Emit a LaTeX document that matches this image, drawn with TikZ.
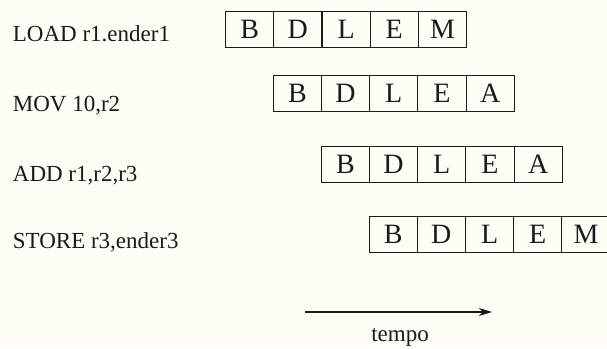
\documentclass[tikz,border=0pt]{standalone}
\usepackage{fontspec}
\setmainfont{Liberation Serif}
\usetikzlibrary{arrows.meta}
\definecolor{paper}{HTML}{FEFCF4}
\definecolor{ink}{HTML}{1A1A1A}
\tikzset{
  cell/.style={draw=ink, line width=1.1pt, minimum width=48.2pt, minimum height=36pt,
    inner sep=0pt, anchor=north west, text=ink, font=\fontsize{28}{32}\selectfont},
  instr/.style={anchor=base west, inner sep=0pt, text=ink, font=\fontsize{23}{27}\selectfont},
  timearrow/.style={draw=ink, line width=1.4pt, -{Stealth[length=13pt,width=8pt,inset=4pt]}}
}
\begin{document}
\begin{tikzpicture}[x=1pt,y=-1pt]
\fill[paper] (0,0) rectangle (607,348);
\useasboundingbox (0,0) rectangle (607,348);
\clip (0,0) rectangle (607,348);
% labels
\node[instr] (l1) at (12.7,41) {LOAD r1.ender1};
\node[instr] (l2) at (12.7,111) {MOV 10,r2};
\node[instr] (l3) at (12.7,181) {ADD r1,r2,r3};
\node[instr] (l4) at (12.7,248) {STORE r3,ender3};
% pipeline rows
\foreach \r/\x/\y/\last in {1/225/11/M, 2/272.7/75/A, 3/320.7/146/A, 4/368.5/215.5/M}{
  \foreach \c/\s [count=\i from 0] in {1/B,2/D,3/L,4/E,5/\last}{
    \node[cell] (r\r c\c) at (\x+48.2*\i,\y) {\s};
  }
}
% time arrow
\coordinate (t0) at (305,312);
\coordinate (t1) at (492,312);
\draw[timearrow] (t0) -- (t1);
\node[anchor=base, inner sep=0pt, text=ink, font=\fontsize{23}{27}\selectfont] (tempo) at (400,341) {tempo};
\end{tikzpicture}
\end{document}
